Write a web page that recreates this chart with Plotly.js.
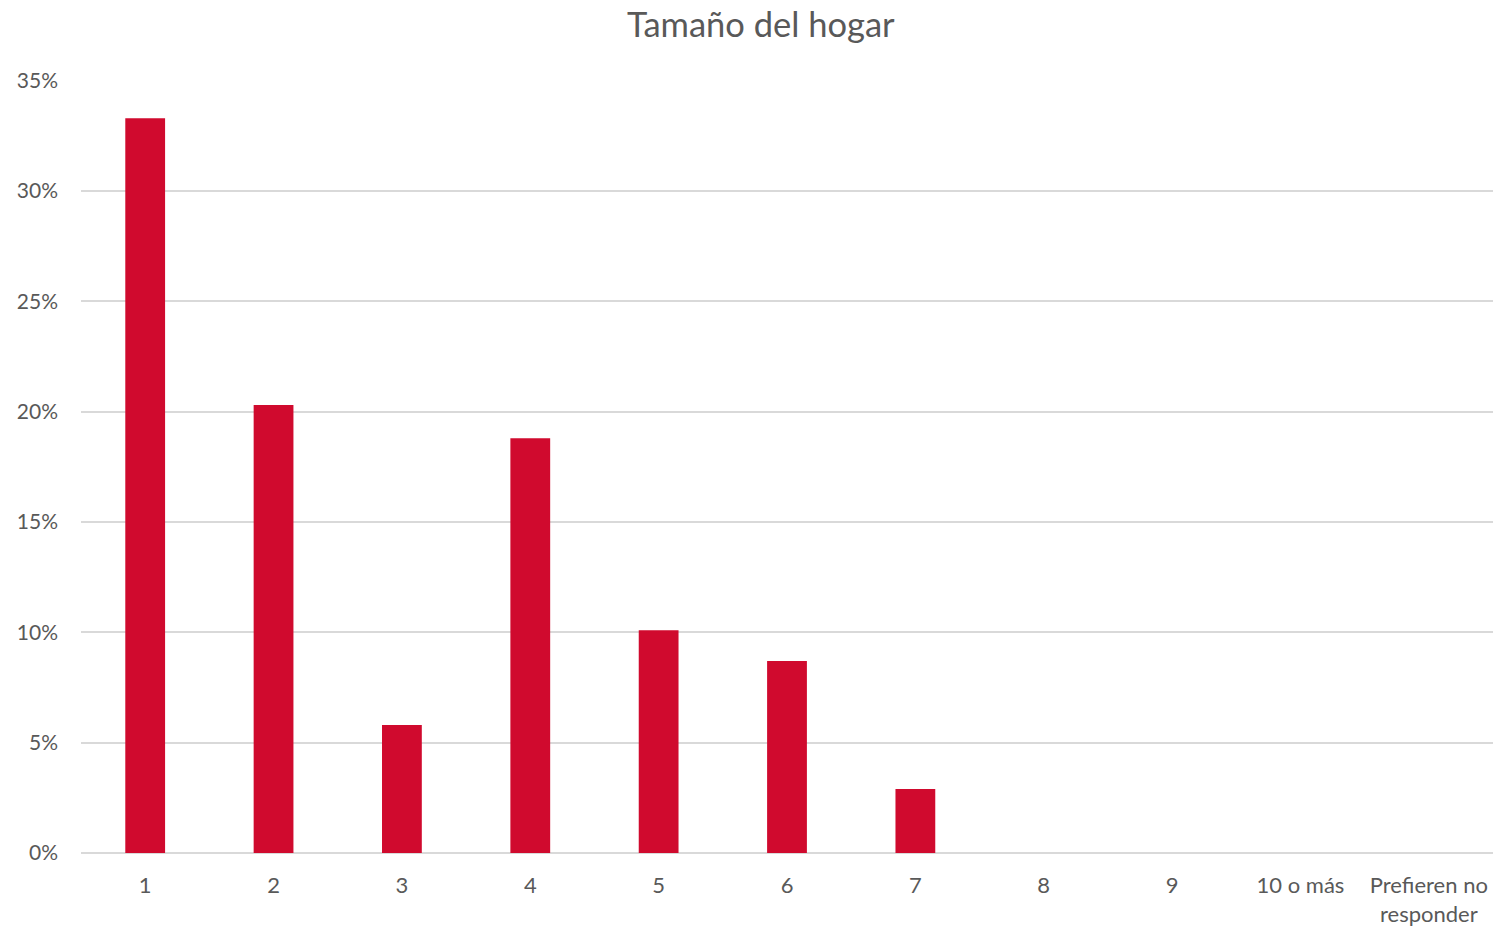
<!DOCTYPE html>
<html>
<head>
<meta charset="utf-8">
<script src="https://cdn.plot.ly/plotly-3.0.1.min.js"></script>
<style>html,body{margin:0;padding:0;background:#fff;}#chart{width:1511px;height:926px;}</style>
</head>
<body>
<div id="chart"></div>
<script>
const categories = ["1", "2", "3", "4", "5", "6", "7", "8", "9", "10 o más", "Prefieren no<br>responder"];
const shares = [0.333, 0.203, 0.058, 0.188, 0.101, 0.087, 0.029, 0, 0, 0, 0];
const yTicks = [0, 0.05, 0.10, 0.15, 0.20, 0.25, 0.30, 0.35];

const fontFam = "Lato, 'Open Sans', sans-serif";
Plotly.newPlot("chart", [{
  type: "bar",
  x: categories,
  y: shares,
  marker: {color: "#D00A2E"},
  hoverinfo: "x+y"
}], {
  width: 1511, height: 926,
  margin: {l: 81, r: 18, t: 80, b: 73},
  paper_bgcolor: "#fff", plot_bgcolor: "#fff",
  bargap: 0.69,
  title: {text: "Tamaño del hogar", x: 0.5035, xanchor: "center", y: 0.986, yanchor: "top",
          font: {family: fontFam, size: 34.5, color: "#595959"}},
  xaxis: {type: "category", showgrid: false, zeroline: false, showline: false,
          ticks: "", ticklabelstandoff: 17,
          tickfont: {family: fontFam, size: 22, color: "#595959"}},
  yaxis: {range: [0, 0.3503], tickvals: yTicks, tickformat: ".0%", showgrid: true,
          gridcolor: "#D9D9D9", gridwidth: 1.5, zeroline: true, zerolinecolor: "#D9D9D9", zerolinewidth: 1.5,
          showline: false, ticks: "", ticklabelstandoff: 22,
          tickfont: {family: fontFam, size: 21, color: "#595959"}},
  showlegend: false
}, {displayModeBar: false});
</script>
</body>
</html>
